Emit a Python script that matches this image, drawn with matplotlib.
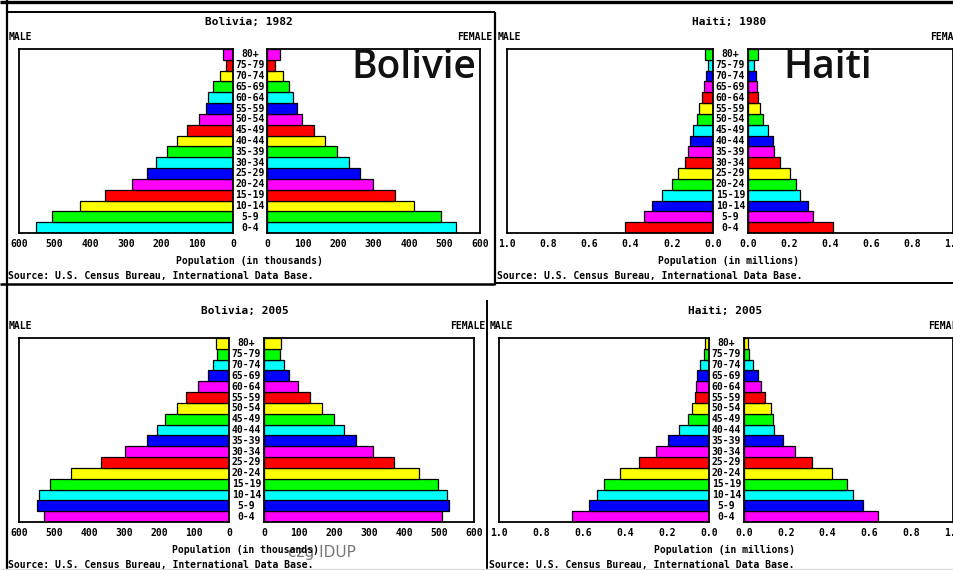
import matplotlib
matplotlib.use("Agg")
import matplotlib.pyplot as plt
from matplotlib.lines import Line2D
import matplotlib.transforms as mtransforms

W, H = 954, 570

ages = ["0-4", "5-9", "10-14", "15-19", "20-24", "25-29", "30-34", "35-39",
        "40-44", "45-49", "50-54", "55-59", "60-64", "65-69", "70-74", "75-79", "80+"]

bol82_male = [551, 507, 428, 360, 282, 240, 215, 186, 156, 128, 95, 76, 70, 57, 37, 21, 28]
bol82_female = [531, 491, 415, 361, 300, 262, 230, 197, 162, 131, 100, 84, 74, 63, 44, 23, 38]

hai80_male = [0.429, 0.335, 0.294, 0.247, 0.200, 0.168, 0.135, 0.121, 0.113, 0.097,
              0.079, 0.066, 0.053, 0.044, 0.034, 0.023, 0.039]
hai80_female = [0.413, 0.319, 0.292, 0.256, 0.235, 0.203, 0.157, 0.128, 0.122, 0.096,
                0.073, 0.057, 0.049, 0.044, 0.039, 0.028, 0.047]

bol05_male = [529, 548, 542, 510, 450, 367, 297, 234, 205, 182, 150, 124, 90, 61, 46, 35, 38]
bol05_female = [509, 528, 524, 497, 444, 372, 311, 262, 229, 200, 166, 131, 97, 71, 57, 45, 50]

hai05_male = [0.653, 0.571, 0.531, 0.499, 0.425, 0.333, 0.250, 0.197, 0.141, 0.100,
              0.082, 0.068, 0.060, 0.055, 0.041, 0.022, 0.017]
hai05_female = [0.643, 0.571, 0.522, 0.494, 0.421, 0.324, 0.242, 0.187, 0.145, 0.140,
                0.128, 0.099, 0.080, 0.069, 0.043, 0.024, 0.018]

titles = ["Bolivia; 1982", "Haiti; 1980", "Bolivia; 2005", "Haiti; 2005"]
thousand_ticks = [0, 100, 200, 300, 400, 500, 600]
million_ticks = [0.0, 0.2, 0.4, 0.6, 0.8, 1.0]
source_text = "Source: U.S. Census Bureau, International Data Base."

CY, GR, YE, RE, MA, BL = "#00FFFF", "#00FF00", "#FFFF00", "#FF0000", "#FF00FF", "#0000FF"
def cycle(seq):
    return [seq[i % len(seq)] for i in range(len(ages))]
colors_bol82 = cycle([CY, GR, YE, RE, MA, BL])
colors_hai80 = cycle([RE, MA, BL, CY, GR, YE])
colors_05 = cycle([MA, BL, CY, GR, YE, RE])

MONO = "DejaVu Sans Mono"

fig = plt.figure(figsize=(W / 100, H / 100), dpi=100)
fig.patch.set_facecolor("white")


def rect(x0, y0, x1, y1):
    return [x0 / W, 1 - y1 / H, (x1 - x0) / W, (y1 - y0) / H]


def ftext(x, y, s, **kw):
    fig.text(x / W, 1 - y / H, s, **kw)


def fline(x0, y0, x1, y1, lw=1.4, color="black"):
    fig.add_artist(Line2D([x0 / W, x1 / W], [1 - y0 / H, 1 - y1 / H],
                          transform=fig.transFigure, color=color, lw=lw,
                          solid_capstyle="butt"))


def pyramid(ml, mr, fl, fr, top, bot, male, female, colors, maxv, ticks, fmt,
            title, xlabel, tx, left_x):
    axm = fig.add_axes(rect(ml, top, mr, bot))
    axf = fig.add_axes(rect(fl, top, fr, bot))
    y = list(range(len(ages)))
    axm.barh(y, male, height=1.0, color=colors, edgecolor="black", linewidth=0.9)
    axf.barh(y, female, height=1.0, color=colors, edgecolor="black", linewidth=0.9)
    axm.set_xlim(maxv, 0)
    axf.set_xlim(0, maxv)
    for ax in (axm, axf):
        ax.set_ylim(-0.5, len(ages) - 0.5)
        ax.set_yticks([])
        ax.set_xticks(ticks)
        ax.set_xticklabels([fmt.format(t) for t in ticks], fontfamily=MONO,
                           fontweight="bold", fontsize=7)
        ax.tick_params(axis="x", length=0, pad=4)
        for sp in ax.spines.values():
            sp.set_linewidth(1.3)
    # age labels
    cx = ((mr + fl) / 2) / W
    tr = mtransforms.blended_transform_factory(fig.transFigure, axf.transData)
    for i, a in enumerate(ages):
        fig.text(cx, i, a, transform=tr, ha="center", va="center",
                 fontfamily=MONO, fontweight="bold", fontsize=7)
    ftext(tx, top - 27, title, ha="center", va="center", fontfamily=MONO,
          fontweight="bold", fontsize=8)
    ftext(left_x + 2, top - 12, "MALE", ha="left", va="center", fontfamily=MONO,
          fontweight="bold", fontsize=7)
    ftext(tx, bot + 28, xlabel, ha="center", va="center", fontfamily=MONO,
          fontweight="bold", fontsize=7, zorder=5)
    ftext(left_x + 1, bot + 43, source_text, ha="left", va="center",
          fontfamily=MONO, fontweight="bold", fontsize=7)
    return axm, axf


# Top-left: Bolivia 1982
pyramid(19, 233, 267, 480, 49, 233, bol82_male, bol82_female, colors_bol82,
        600, thousand_ticks, "{:d}", titles[0], "Population (in thousands)", 249, 7)
ftext(492, 37, "FEMALE", ha="right", va="center", fontfamily=MONO,
      fontweight="bold", fontsize=7)

# Top-right: Haiti 1980
pyramid(507, 713, 748, 953, 49, 233, hai80_male, hai80_female, colors_hai80,
        1.0, million_ticks, "{:.1f}", titles[1], "Population (in millions)", 729, 496)
ftext(930, 37, "FEMALE", ha="left", va="center", fontfamily=MONO,
      fontweight="bold", fontsize=7)

# Bottom-left: Bolivia 2005
pyramid(19, 229, 264, 474, 338, 522, bol05_male, bol05_female, colors_05,
        600, thousand_ticks, "{:d}", titles[2], "Population (in thousands)", 245, 7)
ftext(485, 326, "FEMALE", ha="right", va="center", fontfamily=MONO,
      fontweight="bold", fontsize=7)

# Bottom-right: Haiti 2005
pyramid(499, 709, 744, 953, 338, 522, hai05_male, hai05_female, colors_05,
        1.0, million_ticks, "{:.1f}", titles[3], "Population (in millions)", 725, 488)
ftext(928, 326, "FEMALE", ha="left", va="center", fontfamily=MONO,
      fontweight="bold", fontsize=7)

# Overlay labels
ftext(414, 68, "Bolivie", ha="center", va="center", fontfamily="Open Sans",
      fontweight="semibold", fontsize=28, color="#111111")
ftext(828, 68, "Haiti", ha="center", va="center", fontfamily="Open Sans",
      fontweight="semibold", fontsize=28, color="#111111")
ftext(322, 552, "czg IDUP", ha="center", va="center", fontfamily="DejaVu Sans",
      fontsize=11, color="#777777", zorder=1)

# Screenshot frame lines
fline(0, 1.5, W, 1.5, lw=2.4)
fline(7, 0, 7, H, lw=1.6)
fline(7, 12, 495, 12, lw=1.4)
fline(495, 12, 495, 285, lw=1.6)
fline(0, 284, 495, 284, lw=1.8)
fline(495, 283, W, 283, lw=1.4)
fline(487, 300, 487, H, lw=1.4)
fline(0, 568.5, W, 568.5, lw=1.0, color="#DDDDDD")

fig.savefig("out.png", dpi=100)
